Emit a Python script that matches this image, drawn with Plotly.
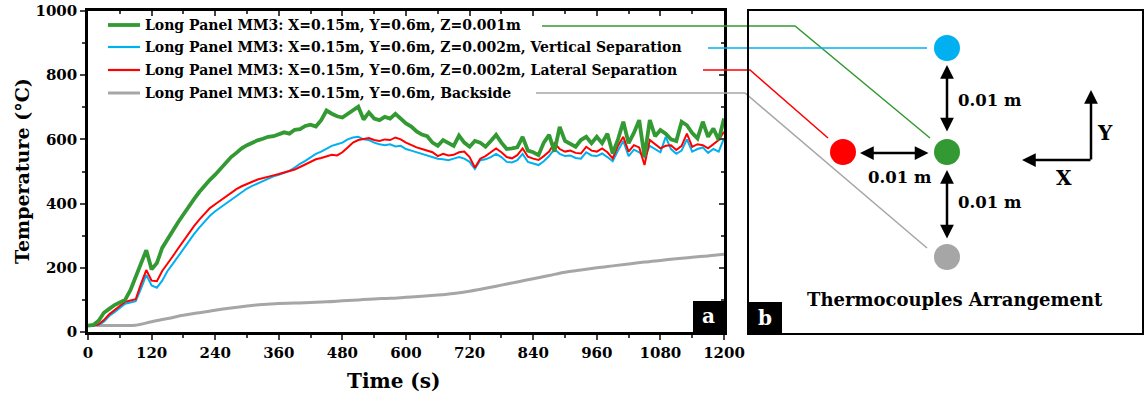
import plotly.graph_objects as go

# ---------------- data ----------------
time_10s = list(range(0, 1201, 10))
green_z001 = [20, 22, 35, 60, 72, 84, 92, 100, 130, 170,
              215, 255, 195, 215, 262, 290, 315, 342, 366, 392,
              414, 436, 456, 474, 490, 508, 528, 545, 558, 572,
              582, 590, 597, 602, 608, 610, 616, 622, 618, 630,
              632, 642, 646, 640, 660, 690, 680, 672, 668, 680,
              690, 702, 662, 684, 665, 660, 670, 665, 680, 665,
              650, 640, 625, 615, 610, 590, 580, 598, 590, 580,
              612, 590, 577, 595, 590, 577, 595, 614, 590, 570,
              572, 575, 608, 565, 560, 551, 590, 614, 562, 639,
              595, 585, 577, 598, 608, 588, 608, 588, 618, 556,
              600, 655, 588, 620, 660, 546, 660, 610, 629, 618,
              600, 595, 655, 644, 620, 603, 655, 608, 634, 598, 665]
red_lateral = [20, 20, 24, 37, 55, 68, 82, 94, 98, 102,
               150, 193, 160, 158, 190, 212, 236, 260, 284, 308,
               330, 350, 368, 386, 398, 410, 422, 434, 445, 454,
               462, 468, 475, 480, 485, 488, 492, 496, 500, 506,
               514, 522, 530, 538, 542, 548, 552, 550, 560, 575,
               590, 598, 600, 604, 598, 595, 600, 598, 606, 600,
               590, 582, 575, 570, 565, 560, 548, 555, 550, 552,
               560, 562, 545, 512, 540, 548, 560, 572, 560, 545,
               541, 551, 572, 546, 540, 536, 548, 562, 588, 570,
               562, 565, 558, 556, 577, 565, 562, 572, 560, 541,
               580, 608, 562, 582, 575, 520, 598, 585, 572, 580,
               582, 567, 580, 618, 577, 585, 582, 572, 585, 598, 624]
blue_vertical = [20, 20, 22, 32, 50, 62, 76, 88, 92, 96,
                 135, 178, 145, 138, 160, 190, 212, 236, 260, 284,
                 305, 325, 343, 362, 376, 388, 400, 413, 425, 437,
                 447, 455, 463, 470, 478, 485, 490, 495, 502, 512,
                 524, 533, 545, 555, 562, 570, 580, 585, 590, 600,
                 606, 608, 600, 598, 590, 585, 582, 585, 578, 580,
                 570, 565, 560, 555, 550, 545, 540, 538, 535, 540,
                 545, 540, 530, 508, 535, 538, 545, 555, 545, 530,
                 528, 535, 555, 530, 525, 520, 532, 548, 570, 555,
                 548, 550, 542, 540, 560, 550, 548, 556, 545, 532,
                 565, 595, 548, 568, 560, 545, 580, 570, 560, 608,
                 570, 555, 565, 600, 562, 570, 575, 558, 570, 562, 603]
time_30s = list(range(0, 1201, 30))
gray_backside = [20, 20, 20, 21, 32, 42, 52, 60, 68, 75, 81, 86, 89, 90, 92, 94, 97, 100, 103, 105,
                 108, 111, 115, 120, 127, 136, 146, 156, 166, 176, 186, 193, 200, 206, 212, 218, 223, 228, 233, 237, 242]

series_names = [
    "Long Panel MM3: X=0.15m, Y=0.6m, Z=0.001m",
    "Long Panel MM3: X=0.15m, Y=0.6m, Z=0.002m, Vertical Separation",
    "Long Panel MM3: X=0.15m, Y=0.6m, Z=0.002m, Lateral Separation",
    "Long Panel MM3: X=0.15m, Y=0.6m, Backside",
]
x_ticks = list(range(0, 1201, 120))
y_ticks = list(range(0, 1001, 200))

GREEN = "#339933"
BLUE = "#00B0F0"
RED = "#FF0000"
GRAY = "#A6A6A6"
FONT = "DejaVu Serif"

W, H = 1145, 400
def px(x):
    return x / W
def py(y):
    return 1 - y / H

fig = go.Figure()
fig.add_trace(go.Scatter(x=time_30s, y=gray_backside, mode="lines", line=dict(color=GRAY, width=3, shape="spline"),
                         showlegend=False, hoverinfo="skip"))
fig.add_trace(go.Scatter(x=time_10s, y=blue_vertical, mode="lines", line=dict(color=BLUE, width=2),
                         showlegend=False))
fig.add_trace(go.Scatter(x=time_10s, y=red_lateral, mode="lines", line=dict(color=RED, width=2),
                         showlegend=False))
fig.add_trace(go.Scatter(x=time_10s, y=green_z001, mode="lines", line=dict(color=GREEN, width=3.8),
                         showlegend=False))
# invisible trace to create the mirrored (top/right) axes
fig.add_trace(go.Scatter(x=time_30s, y=gray_backside, xaxis="x2", yaxis="y2", mode="lines",
                         line=dict(width=0), opacity=0, showlegend=False, hoverinfo="skip"))

xd = [px(88), px(724)]
yd = [py(332), py(11)]
tickfont = dict(family=FONT, size=15, color="black", weight="bold")
fig.update_layout(
    width=W, height=H, margin=dict(l=0, r=0, t=0, b=0),
    paper_bgcolor="white", plot_bgcolor="white",
    xaxis=dict(domain=xd, range=[0, 1200], tickvals=x_ticks, ticks="outside", ticklen=5, tickwidth=2,
               showline=True, linewidth=2.5, linecolor="black", showgrid=False, zeroline=False,
               tickfont=tickfont, automargin=False,
               minor=dict(dtick=60, ticks="outside", ticklen=3, tickwidth=2, showgrid=False)),
    yaxis=dict(domain=yd, range=[0, 1000], tickvals=y_ticks, ticks="outside", ticklen=5, tickwidth=2,
               showline=True, linewidth=2.5, linecolor="black", showgrid=False, zeroline=False,
               tickfont=tickfont, automargin=False,
               minor=dict(dtick=100, ticks="outside", ticklen=3, tickwidth=2, showgrid=False)),
    xaxis2=dict(domain=xd, range=[0, 1200], overlaying="x", side="top", tickvals=x_ticks, ticks="inside",
                ticklen=5, tickwidth=2, showline=True, linewidth=2.5, linecolor="black", showgrid=False,
                zeroline=False, showticklabels=False, anchor="y2",
                minor=dict(dtick=60, ticks="inside", ticklen=3, tickwidth=2, showgrid=False)),
    yaxis2=dict(domain=yd, range=[0, 1000], overlaying="y", side="right", tickvals=y_ticks, ticks="inside",
                ticklen=5, tickwidth=2, showline=True, linewidth=2.5, linecolor="black", showgrid=False,
                zeroline=False, showticklabels=False, anchor="x2",
                minor=dict(dtick=100, ticks="inside", ticklen=3, tickwidth=2, showgrid=False)),
)

shapes = []
annotations = []

def label(text, x, y, size, color="black", xanchor="center", angle=0):
    annotations.append(dict(text="<b>%s</b>" % text, xref="paper", yref="paper", x=px(x), y=py(y),
                            xanchor=xanchor, yanchor="middle", showarrow=False, textangle=angle,
                            font=dict(family=FONT, size=size, color=color)))

# legend
leg_y = [25, 47, 70, 93]
leg_col = [GREEN, BLUE, RED, GRAY]
leg_w = [3.8, 2.2, 2.2, 3]
for name, yy, c, w in zip(series_names, leg_y, leg_col, leg_w):
    shapes.append(dict(type="line", xref="paper", yref="paper", x0=px(108), x1=px(140), y0=py(yy), y1=py(yy),
                       line=dict(color=c, width=w)))
    label(name, 143, yy, 14, xanchor="left")

# leader lines to panel b
leaders = [
    (GREEN, [(542, 26), (795, 26), (930, 138)]),
    (BLUE, [(708, 48), (927, 48)]),
    (RED, [(703, 70), (750, 70), (828, 138)]),
    (GRAY, [(536, 93), (745, 93), (927, 248)]),
]
for c, pts in leaders:
    path = "M " + " L ".join("%f,%f" % (px(a), py(b)) for a, b in pts)
    shapes.append(dict(type="path", xref="paper", yref="paper", path=path, line=dict(color=c, width=1.5)))

# panel b frame
shapes.append(dict(type="rect", xref="paper", yref="paper", x0=px(748), x1=px(1143), y0=py(334), y1=py(10),
                   line=dict(color="black", width=2)))
# label boxes
shapes.append(dict(type="rect", xref="paper", yref="paper", x0=px(693), x1=px(724), y0=py(332), y1=py(301),
                   fillcolor="black", line=dict(color="black", width=0)))
shapes.append(dict(type="rect", xref="paper", yref="paper", x0=px(748), x1=px(782), y0=py(334), y1=py(302),
                   fillcolor="black", line=dict(color="black", width=0)))
label("a", 708.5, 316, 20, color="white")
label("b", 765, 318, 20, color="white")

# circles
r = 13
for cx, cy, c in [(947, 48, BLUE), (947, 152, GREEN), (843, 152, RED), (947, 257, GRAY)]:
    shapes.append(dict(type="circle", xref="paper", yref="paper", x0=px(cx - r), x1=px(cx + r),
                       y0=py(cy + r), y1=py(cy - r), fillcolor=c, line=dict(color=c, width=0)))

# arrows
def arrow(x1, y1, x2, y2, double=True):
    annotations.append(dict(x=px(x1), y=py(y1), ax=x2 - x1, ay=y2 - y1, xref="paper", yref="paper",
                            axref="pixel", ayref="pixel", text="", showarrow=True, arrowhead=2, arrowsize=1.1,
                            arrowwidth=2.5, arrowcolor="black", standoff=0, startstandoff=0,
                            arrowside="end+start" if double else "end", startarrowhead=2, startarrowsize=1.1))

arrow(947, 65, 947, 133)
arrow(860, 153, 930, 153)
arrow(947, 170, 947, 240)
arrow(1091, 90, 1091, 161, double=False)
arrow(1022, 160, 1092, 160, double=False)

label("0.01 m", 956, 100, 16.5, xanchor="left")
label("0.01 m", 900, 177, 16.5)
label("0.01 m", 956, 203, 16.5, xanchor="left")
label("Y", 1105, 133, 20)
label("X", 1064, 178, 20)
label("Thermocouples Arrangement", 955, 299, 18)

# axis titles
label("Temperature (°C)", 22, 171, 19, angle=-90)
label("Time (s)", 394, 381, 20)

fig.update_layout(shapes=shapes, annotations=annotations)
fig.write_html("out.html", config={"displayModeBar": False},
               post_script="document.body.style.margin='0px';document.body.style.overflow='hidden';")
